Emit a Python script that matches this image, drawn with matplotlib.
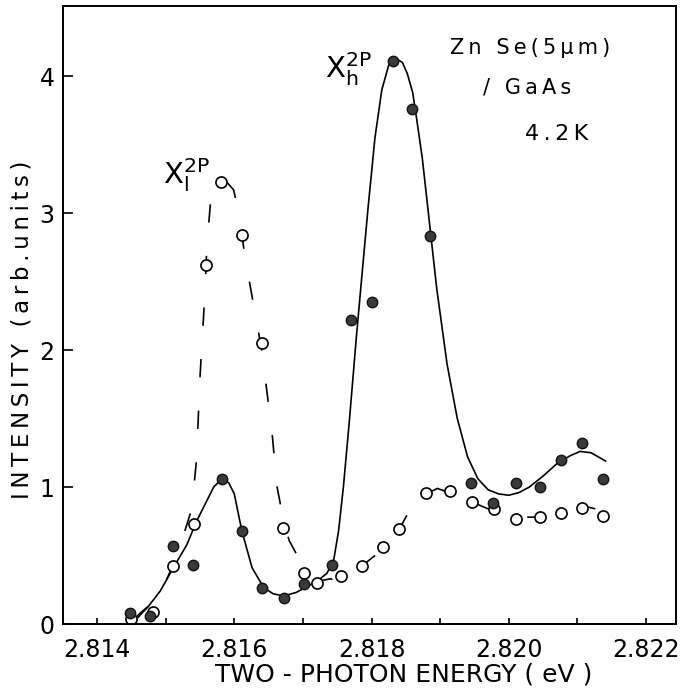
import numpy as np
import matplotlib.pyplot as plt

# measured points: heavy-hole (filled) and light-hole (open) two-photon excitation
x_h = [2.81448, 2.81477, 2.81510, 2.81540, 2.81582, 2.81611, 2.81640, 2.81672,
       2.81701, 2.81742, 2.81770, 2.81800, 2.81831, 2.81859, 2.81885, 2.81945,
       2.81977, 2.82010, 2.82046, 2.82076, 2.82107, 2.82137]
y_h = [0.08, 0.06, 0.57, 0.43, 1.06, 0.68, 0.26, 0.19,
       0.29, 0.43, 2.22, 2.35, 4.11, 3.76, 2.83, 1.03,
       0.88, 1.03, 1.00, 1.20, 1.32, 1.06]

x_l = [2.81449, 2.81481, 2.81510, 2.81541, 2.81559, 2.81580, 2.81611, 2.81640,
       2.81671, 2.81701, 2.81720, 2.81756, 2.81786, 2.81816, 2.81840, 2.81880,
       2.81915, 2.81946, 2.81978, 2.82010, 2.82046, 2.82076, 2.82107, 2.82138]
y_l = [0.04, 0.09, 0.42, 0.73, 2.62, 3.23, 2.84, 2.05,
       0.70, 0.37, 0.30, 0.35, 0.42, 0.56, 0.69, 0.96,
       0.97, 0.89, 0.84, 0.77, 0.78, 0.81, 0.85, 0.79]

# hand-drawn guide curves through the data
cx_h = [2.81460, 2.81475, 2.81492, 2.81510, 2.81531, 2.81545, 2.81560, 2.81570,
        2.81582, 2.81592, 2.81600, 2.81611, 2.81626, 2.81643, 2.81657, 2.81672,
        2.81690, 2.81705, 2.81720, 2.81735, 2.81745, 2.81752, 2.81759, 2.81768,
        2.81778, 2.81787, 2.81795, 2.81805, 2.81815, 2.81825, 2.81835, 2.81845,
        2.81852, 2.81860, 2.81866, 2.81874, 2.81882, 2.81895, 2.81910, 2.81925,
        2.81940, 2.81955, 2.81970, 2.81985, 2.82000, 2.82015, 2.82030, 2.82050,
        2.82070, 2.82090, 2.82104, 2.82120, 2.82141]
cy_h = [0.05, 0.13, 0.24, 0.40, 0.58, 0.75, 0.90, 1.00,
        1.06, 1.03, 0.95, 0.68, 0.41, 0.265, 0.22, 0.205,
        0.23, 0.27, 0.31, 0.37, 0.47, 0.68, 1.00, 1.50,
        2.10, 2.60, 3.04, 3.55, 3.90, 4.08, 4.13, 4.10,
        4.02, 3.88, 3.68, 3.40, 3.04, 2.45, 1.90, 1.50,
        1.22, 1.06, 0.98, 0.95, 0.94, 0.96, 1.00, 1.08,
        1.17, 1.23, 1.26, 1.25, 1.19]

cx_l = [2.81455, 2.81463, 2.81489, 2.81510, 2.81528, 2.81538, 2.81545, 2.81550,
        2.81557, 2.81560, 2.81566, 2.81574, 2.81582, 2.81590, 2.81599, 2.81607,
        2.81615, 2.81622, 2.81640, 2.81655, 2.81662, 2.81672, 2.81680, 2.81696,
        2.81710, 2.81720, 2.81740, 2.81755, 2.81780, 2.81820, 2.81840, 2.81859,
        2.81880, 2.81896, 2.81929, 2.81963, 2.81980, 2.81995, 2.82020, 2.82041,
        2.82060, 2.82085, 2.82110, 2.82127]
cy_l = [0.04, 0.08, 0.19, 0.42, 0.68, 0.84, 1.20, 1.80,
        2.40, 2.75, 3.12, 3.21, 3.24, 3.22, 3.17, 2.99,
        2.70, 2.50, 2.00, 1.40, 1.01, 0.75, 0.61, 0.46,
        0.35, 0.31, 0.33, 0.31, 0.40, 0.56, 0.69, 0.86,
        0.95, 0.99, 0.93, 0.855, 0.82, 0.80, 0.78, 0.78,
        0.80, 0.85, 0.86, 0.84]

xticks = [2.814, 2.816, 2.818, 2.820, 2.822]
yticks = [0, 1, 2, 3, 4]


def spaced(s):
    # wide letter spacing with thin spaces
    return '\u2009'.join(s)


plt.rcParams['font.family'] = ['DejaVu Sans']

fig = plt.figure(figsize=(6.84, 6.91), dpi=100)
ax = fig.add_axes([63 / 684, 67 / 691, 613 / 684, 618 / 691])

ax.plot(cx_h, cy_h, color='black', lw=1.2)
ax.plot(cx_l, cy_l, color='black', lw=1.2, dashes=(11, 20))
ax.plot(x_l, y_l, 'o', ms=8, mfc='white', mec='black', mew=1.2)
ax.plot(x_h, y_h, 'o', ms=7.5, mfc='#3a3a3a', mec='#111111', mew=1.0)

ax.set_xlim(2.813504, 2.822437)
ax.set_ylim(0, 4.512)

ax.set_xticks(xticks)
ax.set_xticklabels(['%.3f' % v for v in xticks])
ax.set_xticks(np.arange(2.815, 2.8225, 0.002), minor=True)
ax.set_yticks(yticks)
ax.tick_params(axis='x', which='both', direction='in', length=4, width=1.2,
               pad=10, labelsize=17, top=False)
ax.tick_params(axis='y', direction='in', length=7, width=1.2, pad=6,
               labelsize=17, right=False)
for sp in ax.spines.values():
    sp.set_linewidth(1.4)

ax.set_ylabel(spaced('INTENSITY (arb.units)'), fontsize=16.5)
ax.yaxis.set_label_coords(-0.048, 0.476)
ax.set_xlabel('TWO - PHOTON ENERGY ( eV )', fontsize=18)
ax.xaxis.set_label_coords(0.555, -0.063)

ax.text(2.81915, 4.205, spaced('Zn Se(5μm)'), fontsize=15, va='center')
ax.text(2.81963, 3.92, spaced('/ GaAs'), fontsize=15, va='center')
ax.text(2.82024, 3.58, spaced('4.2K'), fontsize=16, va='center')
ax.text(2.81732, 4.05, r'$\mathregular{X_h^{2P}}$', fontsize=21, va='center')
ax.text(2.81496, 3.28, r'$\mathregular{X_l^{2P}}$', fontsize=21, va='center')

fig.savefig('out.png', dpi=100)
